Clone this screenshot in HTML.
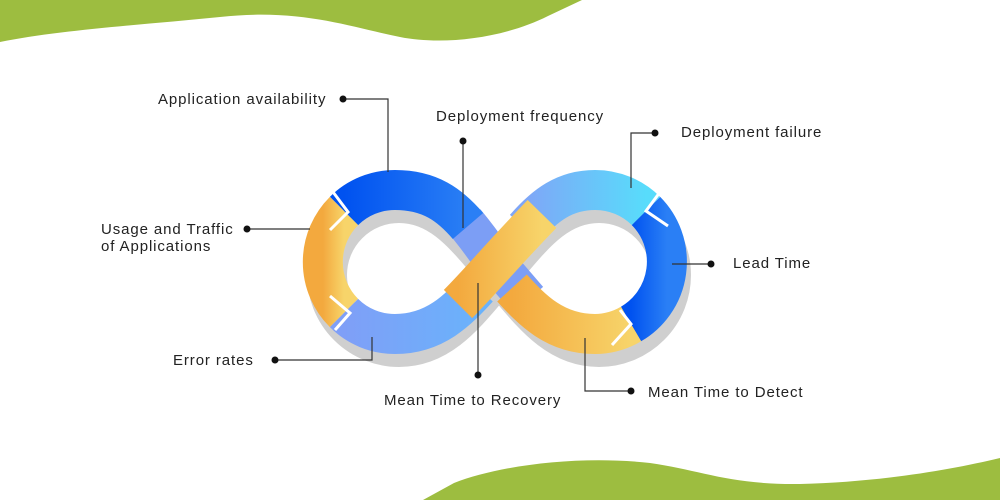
<!DOCTYPE html>
<html><head><meta charset="utf-8"><style>
body{margin:0;width:1000px;height:500px;background:#fff;overflow:hidden;font-family:"Liberation Sans",sans-serif}
svg{position:absolute;left:0;top:0}
</style></head><body>
<svg width="1000" height="500" viewBox="0 0 1000 500">
<defs>
<linearGradient id="or" x1="0" x2="1"><stop offset="0" stop-color="#f3a93e"/><stop offset="1" stop-color="#f7d46a"/></linearGradient>
<linearGradient id="lb" x1="0" x2="1"><stop offset="0" stop-color="#7f9ff7"/><stop offset="1" stop-color="#6ab2fb"/></linearGradient>
<linearGradient id="rt" x1="0" x2="1"><stop offset="0" stop-color="#7fa6f7"/><stop offset="1" stop-color="#58dcfb"/></linearGradient>
<linearGradient id="db" x1="0" x2="1"><stop offset="0" stop-color="#0052f0"/><stop offset="1" stop-color="#2a7ff5"/></linearGradient>
</defs>
<path d="M0,0 L582,0 L548,16 C500,40 440,45 400,37 C350,27 300,8 220,17 C140,25 60,30 0,42 Z" fill="#9dbd40"/>
<path d="M423,500 L454,483 C500,465 580,455 650,463 C700,470 730,485 800,484 C880,482 950,470 1000,458 L1000,500 Z" fill="#9dbd40"/>
<g fill="none" stroke-width="40">
<path transform="translate(4,13)" stroke="#cfcfcf" d="M495,262 C525,228 550,190 595,190 A72,72 0 0 1 595,334 C550,334 525,296 495,262 C465,228 440,190 395,190 A72,72 0 0 0 395,334 C440,334 465,296 495,262"/>
<path stroke="#7c9ef5" d="M465,222 C480,240 488,252 495,262 C505,273 515,285 528,300"/>
<path stroke="url(#db)" d="M344,211 A72,72 0 0 1 395,190 C430,190 450,205 468,226"/>
<path stroke="url(#or)" d="M344,313 A72,72 0 0 1 344,211"/>
<path stroke="url(#lb)" d="M344,313 A72,72 0 0 0 395,334 C435,334 458,310 478,288"/>
<path stroke="url(#rt)" d="M525,228 C545,205 565,190 595,190 A72,72 0 0 1 646,211"/>
<path stroke="url(#db)" d="M646,211 A72,72 0 0 1 631,324"/>
<path stroke="url(#or)" d="M631,324 A72,72 0 0 1 595,334 C555,334 532,310 512,288"/>
<path stroke="url(#or)" d="M458,304 C480,282 505,252 542,214"/>
</g>
<g stroke="#fff" stroke-width="3" fill="none">
<path d="M333,192 L348,212 L330,230"/>
<path d="M330,296 L350,313 L335,330"/>
<path d="M620,310 L631,324 L612,345"/>
<path d="M660,192 L646,211 L668,226"/>
</g>
<g stroke="#333" stroke-width="1.2" fill="none">
<path d="M343,99 H388 V172"/><path d="M463,141 V228"/><path d="M655,133 H631 V188"/>
<path d="M247,229 H310"/><path d="M711,264 H672"/><path d="M275,360 H372 V337"/>
<path d="M478,375 V283"/><path d="M631,391 H585 V338"/>
</g>
<g fill="#111">
<circle cx="343" cy="99" r="3.5"/><circle cx="463" cy="141" r="3.5"/><circle cx="655" cy="133" r="3.5"/>
<circle cx="247" cy="229" r="3.5"/><circle cx="711" cy="264" r="3.5"/><circle cx="275" cy="360" r="3.5"/>
<circle cx="478" cy="375" r="3.5"/><circle cx="631" cy="391" r="3.5"/>
</g>
<g font-family="Liberation Sans, sans-serif" font-size="15" fill="#222" letter-spacing="0.9">
<text x="158" y="104">Application availability</text>
<text x="436" y="121">Deployment frequency</text>
<text x="681" y="137">Deployment failure</text>
<text x="101" y="234">Usage and Traffic</text>
<text x="101" y="251">of Applications</text>
<text x="733" y="268">Lead Time</text>
<text x="173" y="365">Error rates</text>
<text x="384" y="405">Mean Time to Recovery</text>
<text x="648" y="397">Mean Time to Detect</text>
</g>
</svg>
</body></html>
